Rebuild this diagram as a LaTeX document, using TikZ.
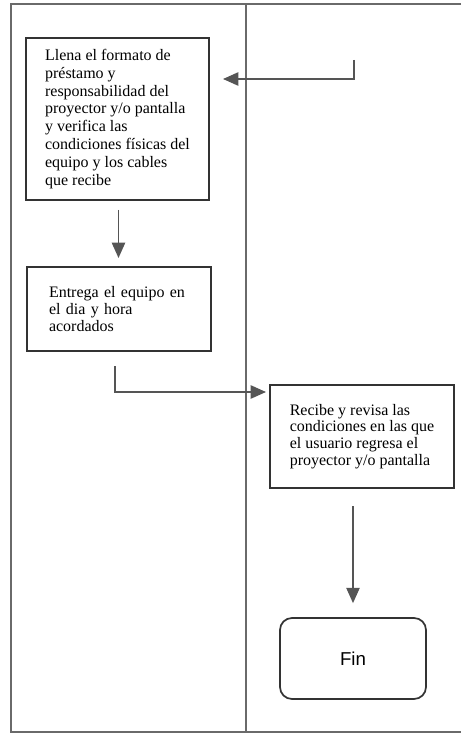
\documentclass[tikz,border=0pt]{standalone}
\usepackage{fontspec}
\setmainfont{Liberation Serif}
\newfontfamily\finfont{Liberation Sans}
\usetikzlibrary{arrows.meta,calc}
\definecolor{linea}{HTML}{555555}
\definecolor{borde}{HTML}{333333}
\definecolor{marco}{HTML}{6A6A6A}
\begin{document}
\begin{tikzpicture}[x=0.75pt,y=-0.75pt]
%%%%%%%%%%%%%%%%%%%%%%%%%%%%%%%%%%%%%%%%%%%%%%%%%%%%%%%%
% STYLE
\tikzstyle{paso}=[rectangle,draw=borde,line width=1.5pt,align=left,inner sep=0pt,
  font=\fontsize{12}{13.4}\selectfont]
\tikzstyle{fin}=[rectangle,rounded corners=9pt,draw=borde,line width=1.3pt,
  minimum width=109.5pt,minimum height=60.75pt,font=\finfont\fontsize{14}{16}\selectfont]
\tikzstyle{flecha}=[draw=linea,line width=1.1pt,
  -{Triangle[length=11.5pt,width=10pt,fill=linea]}]
\tikzstyle{carril}=[draw=marco,line width=0.8pt]

\useasboundingbox (0,0) rectangle (461,734);
%%%%%%%%%%%%%%%%%%%%%%%%%%%%%%%%%%%%%%%%%%%%%%%%%%%%%%%%
% LANES
\draw[carril] (461,4) -- (11,4) -- (11,732) -- (461,732);
\draw[carril] (246,4) -- (246,732);

%%%%%%%%%%%%%%%%%%%%%%%%%%%%%%%%%%%%%%%%%%%%%%%%%%%%%%%%
% NODES
\node[paso,minimum width=137.25pt,minimum height=121.5pt] (P1) at (117.5,119)
  {Llena el formato de\\ préstamo y\\ responsabilidad del\\ proyector y/o pantalla\\
   y verifica las\\ condiciones físicas del\\ equipo y los cables\\ que recibe};

\node[paso,minimum width=138pt,minimum height=63pt,text width=105pt,
  font=\fontsize{12}{12.5}\selectfont] (P2) at (119,309)
  {Entrega el equipo en\\ el dia y hora\\ acordados};

\node[paso,minimum width=138pt,minimum height=77.25pt,
  font=\fontsize{12}{12.5}\selectfont] (P3) at (362,436.5)
  {Recibe y revisa las\\ condiciones en las que\\ el usuario regresa el\\ proyector y/o pantalla};

\node[fin] (F) at (353,658.5) {Fin};

\coordinate (C0) at (354,60);
\coordinate (C1) at ($(P1.south)+(1,0)$);
\coordinate (C2) at ($(P2.south)+(-4,0)$);

%%%%%%%%%%%%%%%%%%%%%%%%%%%%%%%%%%%%%%%%%%%%%%%%%%%%%%%%
% LINKS
\draw[flecha,shorten >=9.75pt] (C0) |- ($(P1.north east)+(0,42)$);
\draw[flecha,shorten <=6.75pt,shorten >=6pt] (C1) -- (C1 |- P2.north);
\draw[flecha,shorten <=10.5pt,shorten >=2.25pt] (C2) |- ($(P3.north west)+(0,8)$);
\draw[flecha,shorten <=12.75pt,shorten >=10.5pt] (P3.south -| F.north) -- (F.north);

\end{tikzpicture}
\end{document}
